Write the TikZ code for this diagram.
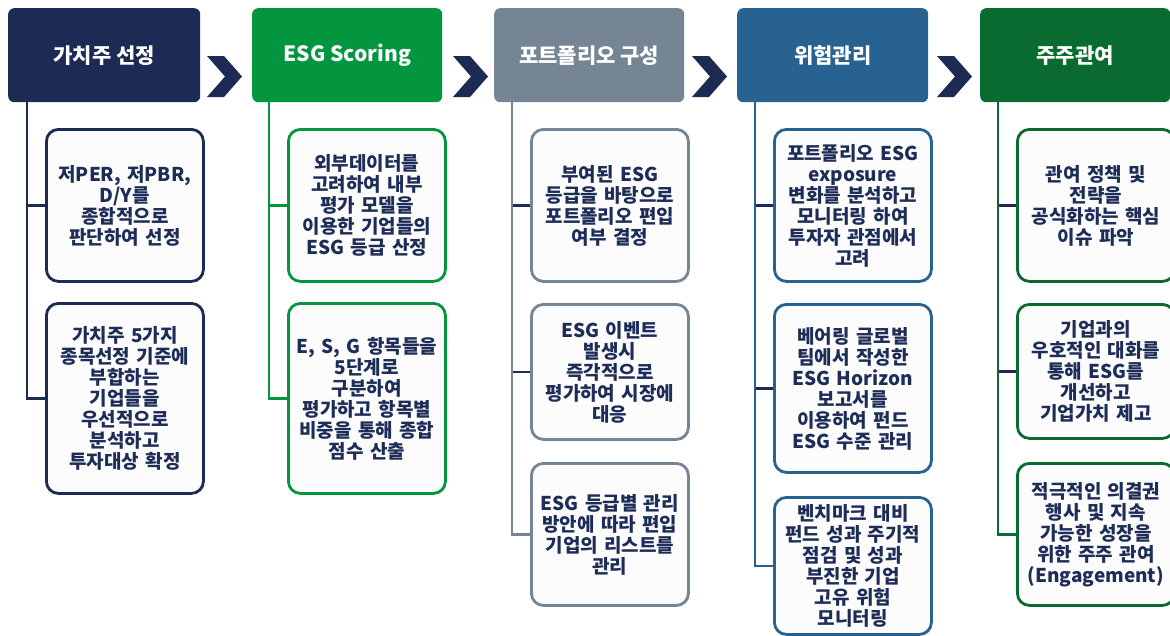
\documentclass[tikz,border=0pt]{standalone}
\usepackage{fontspec}
\setmainfont{Noto Sans CJK KR Black}
\definecolor{cnavy}{HTML}{1C2A54}
\definecolor{cgreen}{HTML}{03963E}
\definecolor{cgray}{HTML}{768594}
\definecolor{cblue}{HTML}{286290}
\definecolor{cdkgreen}{HTML}{0A6B30}
\definecolor{ctext}{HTML}{1E2D58}
\definecolor{cfill}{HTML}{FCFCFD}
\begin{document}
\begin{tikzpicture}[x=1pt,y=-1pt,
  hdr/.style={rounded corners=6pt, text=white, inner sep=0pt, anchor=north west,
    font=\fontsize{21}{24}\selectfont, minimum height=94},
  item/.style={rounded corners=12pt, fill=cfill, line width=2.8pt, inner sep=0pt,
    anchor=north west, minimum width=157, text width=154, align=center, text=ctext,
    font=\fontsize{19}{21}\selectfont},
  conn/.style={line width=2.8pt},
  chev/.style={fill=cnavy}]
\useasboundingbox (0,0) rectangle (1170,635);
% headers
\node[hdr, fill=cnavy, minimum width=192] (h1) at (8,8) {가치주 선정};
\node[hdr, fill=cgreen, minimum width=190] (h2) at (252,8) {ESG Scoring};
\node[hdr, fill=cgray, minimum width=190] (h3) at (494,8) {포트폴리오 구성};
\node[hdr, fill=cblue, minimum width=191] (h4) at (737,8) {위험관리};
\node[hdr, fill=cdkgreen, minimum width=190] (h5) at (980,8) {주주관여};
% chevrons
\foreach \cx in {207,453,692,937}{
  \fill[chev] (\cx,56) -- ++(17,0) -- ++(18,20.5) -- ++(-18,20.5) -- ++(-17,0) -- ++(18,-20.5) -- cycle;
}
% column 1
\node[item, draw=cnavy, minimum height=152] (b11) at (45,128) {저PER, 저PBR,\\D/Y를\\종합적으로\\판단하여 선정};
\node[item, draw=cnavy, minimum height=190] (b12) at (45,302) {가치주 5가지\\종목선정 기준에\\부합하는\\기업들을\\우선적으로\\분석하고\\투자대상 확정};
% column 2
\node[item, draw=cgreen, minimum height=152] (b21) at (287,128) {외부데이터를\\고려하여 내부\\평가 모델을\\이용한 기업들의\\ESG 등급 산정};
\node[item, draw=cgreen, minimum height=190] (b22) at (287,302) {E, S, G 항목들을\\5단계로\\구분하여\\평가하고 항목별\\비중을 통해 종합\\점수 산출};
% column 3
\node[item, draw=cgray, minimum height=152] (b31) at (530,128) {부여된 ESG\\등급을 바탕으로\\포트폴리오 편입\\여부 결정};
\node[item, draw=cgray, minimum height=135] (b32) at (530,303) {ESG 이벤트\\발생시\\즉각적으로\\평가하여 시장에\\대응};
\node[item, draw=cgray, minimum height=142] (b33) at (530,462) {ESG 등급별 관리\\방안에 따라 편입\\기업의 리스트를\\관리};
% column 4
\node[item, draw=cblue, minimum height=152] (b41) at (773,128) {포트폴리오 ESG\\exposure\\변화를 분석하고\\모니터링 하여\\투자자 관점에서\\고려};
\node[item, draw=cblue, minimum height=168] (b42) at (773,303) {베어링 글로벌\\팀에서 작성한\\ESG Horizon\\보고서를\\이용하여 펀드\\ESG 수준 관리};
\node[item, draw=cblue, minimum height=137] (b43) at (773,496) {벤치마크 대비\\펀드 성과 주기적\\점검 및 성과\\부진한 기업\\고유 위험\\모니터링};
% column 5
\node[item, draw=cdkgreen, minimum height=152] (b51) at (1016,128) {관여 정책 및\\전략을\\공식화하는 핵심\\이슈 파악};
\node[item, draw=cdkgreen, minimum height=134] (b52) at (1016,303) {기업과의\\우호적인 대화를\\통해 ESG를\\개선하고\\기업가치 제고};
\node[item, draw=cdkgreen, minimum height=142] (b53) at (1016,462) {적극적인 의결권\\행사 및 지속\\가능한 성장을\\위한 주주 관여\\(Engagement)};
% connectors
\coordinate (v1) at ([xshift=19]h1.south west);
\coordinate (v2) at ([xshift=17]h2.south west);
\coordinate (v3) at ([xshift=18]h3.south west);
\coordinate (v4) at ([xshift=18]h4.south west);
\coordinate (v5) at ([xshift=18]h5.south west);
\draw[conn, cnavy] (v1) |- (b12.west);
\draw[conn, cnavy] (b11.west -| v1) -- (b11.west);
\draw[conn, cgreen] (v2) |- (b22.west);
\draw[conn, cgreen] (b21.west -| v2) -- (b21.west);
\draw[conn, cgray] (v3) |- (b33.west);
\draw[conn, cnavy] ([xshift=1.4]b31.west -| v3) -- (b31.west);
\draw[conn, cnavy] ([xshift=1.4]b32.west -| v3) -- (b32.west);
\draw[conn, cblue] (v4) |- (b43.west);
\draw[conn, cnavy] ([xshift=1.4]b41.west -| v4) -- (b41.west);
\draw[conn, cnavy] ([xshift=1.4]b42.west -| v4) -- (b42.west);
\draw[conn, cdkgreen] (v5) |- (b53.west);
\draw[conn, cnavy] ([xshift=1.4]b51.west -| v5) -- (b51.west);
\draw[conn, cnavy] ([xshift=1.4]b52.west -| v5) -- (b52.west);
\end{tikzpicture}
\end{document}
